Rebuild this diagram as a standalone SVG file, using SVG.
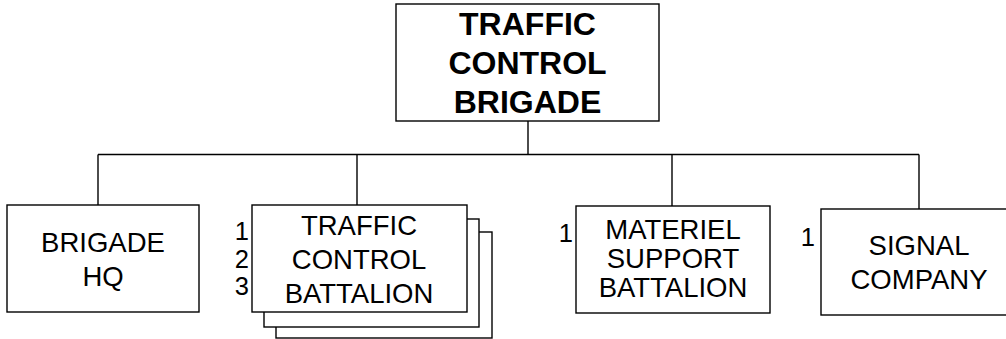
<svg xmlns="http://www.w3.org/2000/svg" width="1006" height="339" viewBox="0 0 1006 339">
<style>
rect{fill:#fff;stroke:#000;stroke-width:1.4}
line{stroke:#000;stroke-width:1.4}
text{font-family:"Liberation Sans",Arial,sans-serif;font-size:27.5px;fill:#000}
.t{text-anchor:middle}
.b{font-weight:bold;font-size:32px}
.n{text-anchor:end;font-size:25.5px}
</style>
<rect x="0" y="0" width="1006" height="339" style="stroke:none"/>
<g id="connectors">
<line x1="528" y1="121" x2="528" y2="154.5"/>
<line x1="98" y1="154.5" x2="919" y2="154.5"/>
<line x1="98" y1="154.5" x2="98" y2="205"/>
<line x1="357" y1="154.5" x2="357" y2="205"/>
<line x1="672" y1="154.5" x2="672" y2="206"/>
<line x1="919" y1="154.5" x2="919" y2="209"/>
</g>
<g id="brigade">
<rect x="396" y="4" width="263" height="117"/>
<text class="t b" x="527.5" y="35">TRAFFIC</text>
<text class="t b" x="527.5" y="74">CONTROL</text>
<text class="t b" x="527.5" y="113">BRIGADE</text>
</g>
<g id="hq">
<rect x="7" y="205" width="192" height="107"/>
<text class="t" x="103" y="252">BRIGADE</text>
<text class="t" x="103" y="286">HQ</text>
</g>
<g id="tcb">
<rect x="276" y="232" width="216" height="106"/>
<rect x="264" y="219" width="215" height="108"/>
<rect x="252" y="205" width="215" height="107"/>
<text class="n" x="249" y="240">1</text>
<text class="n" x="249" y="268">2</text>
<text class="n" x="249" y="295">3</text>
<text class="t" x="359" y="235">TRAFFIC</text>
<text class="t" x="359" y="269">CONTROL</text>
<text class="t" x="359" y="303">BATTALION</text>
</g>
<g id="msb">
<rect x="576" y="206" width="194" height="107"/>
<text class="n" x="573" y="242">1</text>
<text class="t" x="673" y="239">MATERIEL</text>
<text class="t" x="673" y="268">SUPPORT</text>
<text class="t" x="673" y="297">BATTALION</text>
</g>
<g id="signal">
<rect x="821" y="209" width="200" height="106"/>
<text class="n" x="815" y="246">1</text>
<text class="t" x="919" y="255">SIGNAL</text>
<text class="t" x="919" y="289">COMPANY</text>
</g>
</svg>
